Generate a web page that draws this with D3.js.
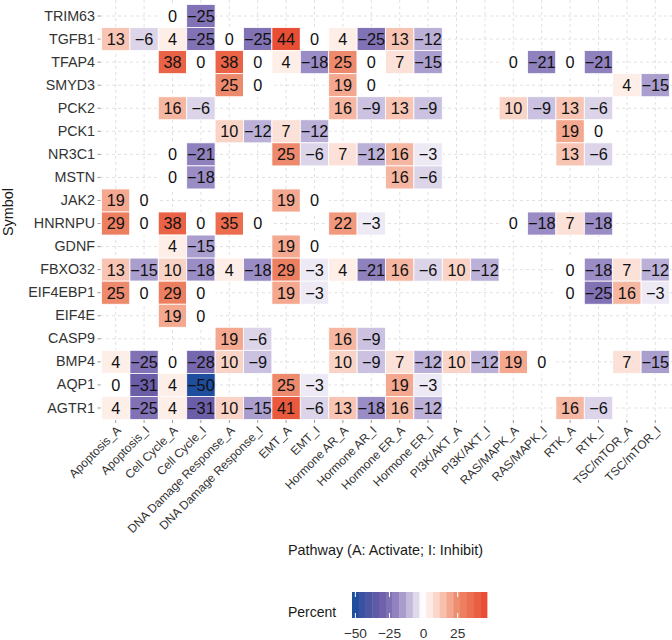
<!DOCTYPE html>
<html>
<head>
<meta charset="utf-8">
<script src="https://cdn.jsdelivr.net/npm/d3@7"></script>
<style>
  html, body { margin: 0; padding: 0; background: #ffffff; }
  svg { display: block; font-family: "Liberation Sans", Arial, Helvetica, sans-serif; }
</style>
</head>
<body>
<svg id="chart" width="672" height="640"></svg>
<script>
// ---- Data ----
const pathways = [
  "Apoptosis_A", "Apoptosis_I", "Cell Cycle_A", "Cell Cycle_I",
  "DNA Damage Response_A", "DNA Damage Response_I", "EMT_A", "EMT_I",
  "Hormone AR_A", "Hormone AR_I", "Hormone ER_A", "Hormone ER_I",
  "PI3K/AKT_A", "PI3K/AKT_I", "RAS/MAPK_A", "RAS/MAPK_I",
  "RTK_A", "RTK_I", "TSC/mTOR_A", "TSC/mTOR_I"
];

const symbols = [
  "TRIM63", "TGFB1", "TFAP4", "SMYD3", "PCK2", "PCK1", "NR3C1", "MSTN", "JAK2",
  "HNRNPU", "GDNF", "FBXO32", "EIF4EBP1", "EIF4E", "CASP9", "BMP4", "AQP1", "AGTR1"
];

const _ = null;
// one row per symbol, one value per pathway (null = no tile)
const TRIM63   = [_, _, 0, -25, _, _, _, _, _, _, _, _, _, _, _, _, _, _, _, _];
const TGFB1    = [13, -6, 4, -25, 0, -25, 44, 0, 4, -25, 13, -12, _, _, _, _, _, _, _, _];
const TFAP4    = [_, _, 38, 0, 38, 0, 4, -18, 25, 0, 7, -15, _, _, 0, -21, 0, -21, _, _];
const SMYD3    = [_, _, _, _, 25, 0, _, _, 19, 0, _, _, _, _, _, _, _, _, 4, -15];
const PCK2     = [_, _, 16, -6, _, _, _, _, 16, -9, 13, -9, _, _, 10, -9, 13, -6, _, _];
const PCK1     = [_, _, _, _, 10, -12, 7, -12, _, _, _, _, _, _, _, _, 19, 0, _, _];
const NR3C1    = [_, _, 0, -21, _, _, 25, -6, 7, -12, 16, -3, _, _, _, _, 13, -6, _, _];
const MSTN     = [_, _, 0, -18, _, _, _, _, _, _, 16, -6, _, _, _, _, _, _, _, _];
const JAK2     = [19, 0, _, _, _, _, 19, 0, _, _, _, _, _, _, _, _, _, _, _, _];
const HNRNPU   = [29, 0, 38, 0, 35, 0, _, _, 22, -3, _, _, _, _, 0, -18, 7, -18, _, _];
const GDNF     = [_, _, 4, -15, _, _, 19, 0, _, _, _, _, _, _, _, _, _, _, _, _];
const FBXO32   = [13, -15, 10, -18, 4, -18, 29, -3, 4, -21, 16, -6, 10, -12, _, _, 0, -18, 7, -12];
const EIF4EBP1 = [25, 0, 29, 0, _, _, 19, -3, _, _, _, _, _, _, _, _, 0, -25, 16, -3];
const EIF4E    = [_, _, 19, 0, _, _, _, _, _, _, _, _, _, _, _, _, _, _, _, _];
const CASP9    = [_, _, _, _, 19, -6, _, _, 16, -9, _, _, _, _, _, _, _, _, _, _];
const BMP4     = [4, -25, 0, -28, 10, -9, _, _, 10, -9, 7, -12, 10, -12, 19, 0, _, _, 7, -15];
const AQP1     = [0, -31, 4, -50, _, _, 25, -3, _, _, 19, -3, _, _, _, _, _, _, _, _];
const AGTR1    = [4, -25, 4, -31, 10, -15, 41, -6, 13, -18, 16, -12, _, _, _, _, 16, -6, _, _];

const rows = [TRIM63, TGFB1, TFAP4, SMYD3, PCK2, PCK1, NR3C1, MSTN, JAK2,
              HNRNPU, GDNF, FBXO32, EIF4EBP1, EIF4E, CASP9, BMP4, AQP1, AGTR1];

const legendBreaks = [-50, -25, 0, 25];

// ---- Build tile table ----
const tiles = [];
symbols.forEach((s, i) => {
  rows[i].forEach((v, j) => {
    if (v !== null) tiles.push({ symbol: s, pathway: pathways[j], value: v });
  });
});

// ---- Layout ----
const svg = d3.select("#chart");
svg.append("rect").attr("width", 672).attr("height", 640).attr("fill", "#ffffff");

const panel = { left: 101.5, right: 669.5, top: 4.5, bottom: 419.5 };

const x = d3.scaleBand().domain(pathways).range([panel.left, panel.right]).padding(0);
const y = d3.scaleBand().domain(symbols).range([panel.top, panel.bottom]).padding(0);

const vmin = d3.min(tiles, d => d.value);
const vmax = d3.max(tiles, d => d.value);

const color = d3.scaleLinear()
  .domain([-50, -31, -18, -6, 0, 10, 25, 44])
  .range(["#1f4e9e", "#6b5da8", "#9a8cc5", "#dcd5ea", "#ffffff", "#f9d4c6", "#ed8a6d", "#e84e34"])
  .interpolate(d3.interpolateLab)
  .clamp(true);

// grid lines
const grid = svg.append("g");
grid.selectAll("line.v").data(pathways).join("line")
  .attr("x1", d => x(d) + x.bandwidth() / 2).attr("x2", d => x(d) + x.bandwidth() / 2)
  .attr("y1", 0).attr("y2", 420)
  .attr("stroke", "#d4d4d4").attr("stroke-width", 0.7).attr("stroke-dasharray", "3,3");
grid.selectAll("line.h").data(symbols).join("line")
  .attr("y1", d => y(d) + y.bandwidth() / 2).attr("y2", d => y(d) + y.bandwidth() / 2)
  .attr("x1", 100).attr("x2", 672)
  .attr("stroke", "#d4d4d4").attr("stroke-width", 0.7).attr("stroke-dasharray", "3,3");

// tiles
svg.append("g").selectAll("rect").data(tiles).join("rect")
  .attr("x", d => x(d.pathway)).attr("y", d => y(d.symbol))
  .attr("width", x.bandwidth()).attr("height", y.bandwidth())
  .attr("fill", d => color(d.value))
  .attr("stroke", "#ffffff").attr("stroke-width", 0.8);

// tile labels
const fmt = v => (v < 0 ? "\u2212" + Math.abs(v) : String(v));
svg.append("g").selectAll("text").data(tiles).join("text")
  .attr("x", d => x(d.pathway) + x.bandwidth() / 2)
  .attr("y", d => y(d.symbol) + y.bandwidth() / 2)
  .attr("dy", "0.36em")
  .attr("text-anchor", "middle")
  .attr("font-size", "16.3px")
  .attr("fill", "#111111")
  .text(d => fmt(d.value));

// y axis
const yAxis = svg.append("g").attr("transform", "translate(100.5,0)")
  .call(d3.axisLeft(y).tickSize(3).tickPadding(2.5));
yAxis.select(".domain").remove();
yAxis.selectAll(".tick line").attr("stroke", "#999999");
yAxis.selectAll(".tick text").attr("font-size", "14.3px").attr("fill", "#333333")
  .attr("font-family", "'Liberation Sans', Arial, Helvetica, sans-serif");

// x axis
const xAxis = svg.append("g").attr("transform", "translate(0,420)")
  .call(d3.axisBottom(x).tickSize(3));
xAxis.select(".domain").remove();
xAxis.selectAll(".tick line").attr("stroke", "#999999");
xAxis.selectAll(".tick text")
  .attr("font-size", "12px").attr("fill", "#333333")
  .attr("font-family", "'Liberation Sans', Arial, Helvetica, sans-serif")
  .attr("text-anchor", "end")
  .attr("x", 0).attr("y", 0).attr("dy", "0.71em")
  .attr("transform", "translate(0,5) rotate(-45)");

// axis titles
svg.append("text")
  .attr("x", (panel.left + panel.right) / 2).attr("y", 555)
  .attr("text-anchor", "middle").attr("font-size", "14.4px").attr("fill", "#1a1a1a")
  .text("Pathway (A: Activate; I: Inhibit)");

svg.append("text")
  .attr("transform", `translate(13,${(panel.top + panel.bottom) / 2}) rotate(-90)`)
  .attr("text-anchor", "middle").attr("font-size", "14.4px").attr("fill", "#1a1a1a")
  .text("Symbol");

// ---- Legend (stepped colour bar) ----
const nbin = 20;
const barX0 = 352, barX1 = 487, barY = 592, barH = 26;
const binW = (barX1 - barX0) / nbin;
const binVals = d3.range(nbin).map(k => vmin + k * (vmax - vmin) / (nbin - 1));
const leg = svg.append("g");
leg.selectAll("rect").data(binVals).join("rect")
  .attr("x", (d, k) => barX0 + k * binW).attr("y", barY)
  .attr("width", binW + 0.4).attr("height", barH)
  .attr("fill", d => color(d));

const lx = d3.scaleLinear().domain([vmin, vmax]).range([barX0 + binW / 2, barX1 - binW / 2]);
leg.selectAll("line.tt").data(legendBreaks).join("line")
  .attr("x1", d => lx(d)).attr("x2", d => lx(d))
  .attr("y1", barY).attr("y2", barY + 5)
  .attr("stroke", "#ffffff").attr("stroke-width", 1);
leg.selectAll("line.tb").data(legendBreaks).join("line")
  .attr("x1", d => lx(d)).attr("x2", d => lx(d))
  .attr("y1", barY + barH - 5).attr("y2", barY + barH)
  .attr("stroke", "#ffffff").attr("stroke-width", 1);
leg.selectAll("text.lab").data(legendBreaks).join("text")
  .attr("x", d => lx(d)).attr("y", 638)
  .attr("text-anchor", "middle").attr("font-size", "13.7px").attr("fill", "#333333")
  .text(d => fmt(d));

svg.append("text")
  .attr("x", 288).attr("y", 617)
  .attr("font-size", "14px").attr("fill", "#1a1a1a")
  .text("Percent");
</script>
</body>
</html>
